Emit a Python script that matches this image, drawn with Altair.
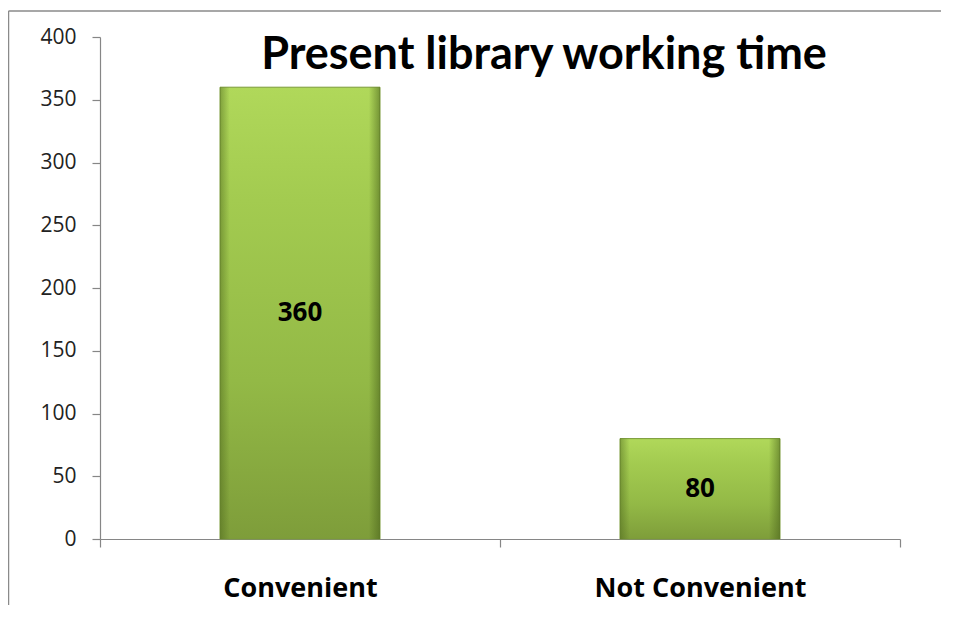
import altair as alt
import pandas as pd

categories = ["Convenient", "Not Convenient"]
values = [360, 80]
y_ticks = [0, 50, 100, 150, 200, 250, 300, 350, 400]
title_text = "Present library working time"

df = pd.DataFrame({"category": categories, "value": values})

FONT = "Open Sans"
TITLE_FONT = "Lato"
AXIS_GRAY = "#868686"

x_enc = alt.X(
    "category:N",
    sort=categories,
    scale=alt.Scale(paddingInner=0, paddingOuter=0),
    axis=alt.Axis(
        title=None,
        labelAngle=0,
        tickBand="extent",
        grid=False,
        labelFont=FONT,
        labelFontSize=27,
        labelFontWeight="bold",
        labelColor="#000000",
        labelPadding=28,
        labelLimit=0,
        tickSize=8,
        tickColor=AXIS_GRAY,
        domainColor=AXIS_GRAY,
        tickWidth=1.2,
        domainWidth=1.2,
    ),
)

y_scale = alt.Scale(domain=[0, 400], nice=False)
y_axis = alt.Axis(
    title=None,
    values=y_ticks,
    grid=False,
    labelFont=FONT,
    labelFontSize=21,
    labelColor="#222222",
    labelPadding=16,
    tickSize=8,
    tickColor=AXIS_GRAY,
    domainColor=AXIS_GRAY,
    tickWidth=1.2,
    domainWidth=1.2,
)

fill_grad = alt.LinearGradient(
    gradient="linear",
    stops=[
        alt.GradientStop(color="#b0d85a", offset=0),
        alt.GradientStop(color="#a3cb50", offset=0.25),
        alt.GradientStop(color="#93b946", offset=0.65),
        alt.GradientStop(color="#7e9d3a", offset=1),
    ],
    x1=0, x2=0, y1=0, y2=1,
)
side_grad = alt.LinearGradient(
    gradient="linear",
    stops=[
        alt.GradientStop(color="rgba(70,95,25,0.45)", offset=0),
        alt.GradientStop(color="rgba(70,95,25,0.0)", offset=0.06),
        alt.GradientStop(color="rgba(70,95,25,0.0)", offset=0.93),
        alt.GradientStop(color="rgba(70,95,25,0.55)", offset=1),
    ],
    x1=0, x2=1, y1=0, y2=0,
)

base = alt.Chart(df)

bars = base.mark_bar(size=160, color=fill_grad, stroke="#7a9a38", strokeWidth=1).encode(
    x=x_enc,
    y=alt.Y("value:Q", scale=y_scale, axis=y_axis),
)
bevel = base.mark_bar(size=160, color=side_grad).encode(
    x=x_enc,
    y=alt.Y("value:Q", scale=y_scale, axis=y_axis),
)
labels = base.transform_calculate(mid="datum.value / 2").mark_text(
    font=FONT, fontSize=26, fontWeight="bold", color="#000000", baseline="middle"
).encode(
    x=x_enc,
    y=alt.Y("mid:Q", scale=y_scale, axis=y_axis),
    text=alt.Text("value:Q"),
)

single = alt.Chart(alt.Data(values=[{"title": title_text}]))
title_mark = single.mark_text(
    font=TITLE_FONT, fontSize=45, fontWeight="bold", color="#000000",
    align="center", baseline="alphabetic",
).encode(x=alt.value(444), y=alt.value(32), text="title:N")

# outer chart-area frame (top and left edges visible in the reference)
top_border = single.mark_rule(color="#8a8a8a", strokeWidth=1.5).encode(
    x=alt.value(-91.5), x2=alt.value(845), y=alt.value(-26), y2=alt.value(-26)
)
left_border = single.mark_rule(color="#8a8a8a", strokeWidth=1.5).encode(
    x=alt.value(-91.5), x2=alt.value(-91.5), y=alt.value(-26), y2=alt.value(570)
)
# hide plot-area frame edges
mask_top = single.mark_rule(color="#ffffff", strokeWidth=3).encode(
    x=alt.value(1.5), x2=alt.value(802), y=alt.value(0), y2=alt.value(0)
)
mask_right = single.mark_rule(color="#ffffff", strokeWidth=3).encode(
    x=alt.value(800.5), x2=alt.value(800.5), y=alt.value(-1), y2=alt.value(500)
)

chart = alt.layer(
    mask_top, mask_right, bars, bevel, labels, title_mark, top_border, left_border
).properties(
    width=800,
    height=502,
    background="white",
    autosize=alt.AutoSizeParams(type="none"),
    padding={"left": 92, "top": 29, "right": 41, "bottom": 66},
).configure(
    style={"cell": {"stroke": "transparent", "strokeWidth": 0}},
).configure_view(stroke=None, strokeWidth=0)

chart.save("out.html", embed_options={"renderer": "svg", "actions": False})
